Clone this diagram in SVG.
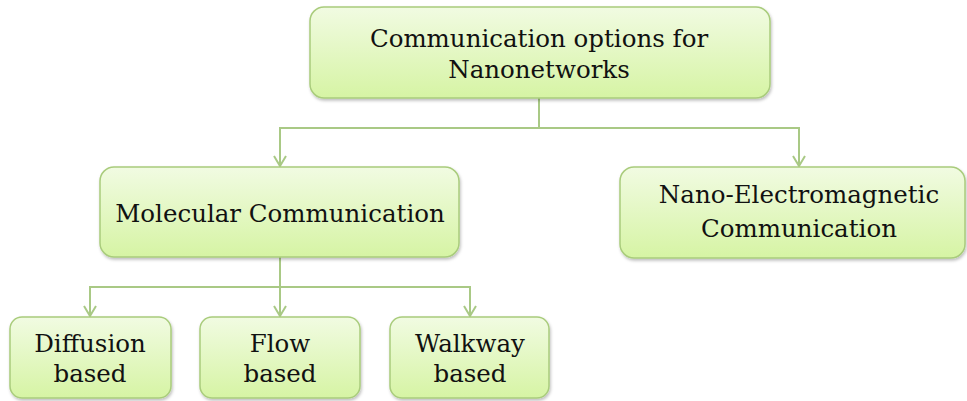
<svg xmlns="http://www.w3.org/2000/svg" width="967" height="401" viewBox="0 0 967 401">
  <style>
    .box { fill: url(#boxFill); stroke: #a9cc7c; stroke-width: 1.5; filter: url(#shadow); }
    .lbl { font-family: "DejaVu Serif", "Liberation Serif", serif; font-size: 24.5px; fill: #111; text-anchor: middle; }
    .conn { fill: none; stroke: #a9c985; stroke-width: 2; }
  </style>
  <defs>
    <linearGradient id="boxFill" x1="0" y1="0" x2="0" y2="1">
      <stop offset="0" stop-color="#f1fbe2"/>
      <stop offset="1" stop-color="#d6f4a4"/>
    </linearGradient>
    <filter id="shadow" x="-10%" y="-10%" width="120%" height="130%">
      <feDropShadow dx="1" dy="2" stdDeviation="1.5" flood-color="#000" flood-opacity="0.25"/>
    </filter>
    <!-- open chevron head, drawn along +x so orient="auto" turns it with the line -->
    <marker id="vee" viewBox="0 0 12 14" refX="11" refY="7" markerWidth="12" markerHeight="14" markerUnits="userSpaceOnUse" orient="auto">
      <path d="M1,1 L11,7 L1,13" fill="none" stroke="#a9c985" stroke-width="2"/>
    </marker>
  </defs>

  <g id="connectors">
    <path class="conn" d="M539,98 V128 H280 V166" marker-end="url(#vee)"/>
    <path class="conn" d="M539,128 H799 V166" marker-end="url(#vee)"/>
    <path class="conn" d="M280,257 V316" marker-end="url(#vee)"/>
    <path class="conn" d="M280,287 H90 V316" marker-end="url(#vee)"/>
    <path class="conn" d="M280,287 H470 V316" marker-end="url(#vee)"/>
  </g>

  <g id="root">
    <rect class="box" x="310" y="7" width="460" height="91" rx="14"/>
    <text class="lbl" x="539" y="47">Communication options for</text>
    <text class="lbl" x="539" y="78">Nanonetworks</text>
  </g>

  <g id="molecular">
    <rect class="box" x="100" y="167" width="359" height="90" rx="14"/>
    <text class="lbl" x="280" y="222">Molecular Communication</text>
  </g>

  <g id="nano-em">
    <rect class="box" x="620" y="167" width="345" height="91" rx="14"/>
    <text class="lbl" x="799" y="203">Nano-Electromagnetic</text>
    <text class="lbl" x="799" y="237">Communication</text>
  </g>

  <g id="diffusion">
    <rect class="box" x="10" y="317" width="161" height="81" rx="12"/>
    <text class="lbl" x="90" y="352">Diffusion</text>
    <text class="lbl" x="90" y="382">based</text>
  </g>

  <g id="flow">
    <rect class="box" x="200" y="317" width="160" height="81" rx="12"/>
    <text class="lbl" x="280" y="352">Flow</text>
    <text class="lbl" x="280" y="382">based</text>
  </g>

  <g id="walkway">
    <rect class="box" x="390" y="317" width="159" height="81" rx="12"/>
    <text class="lbl" x="470" y="352">Walkway</text>
    <text class="lbl" x="470" y="382">based</text>
  </g>
</svg>
